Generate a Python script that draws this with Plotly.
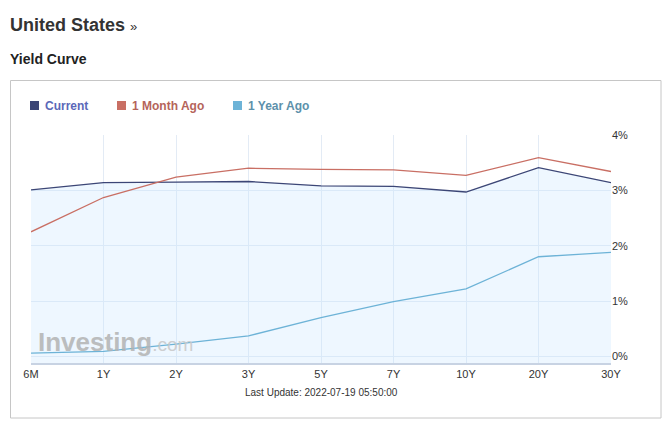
import plotly.graph_objects as go

# ---- data ----
maturities = ["6M", "1Y", "2Y", "3Y", "5Y", "7Y", "10Y", "20Y", "30Y"]
current = [3.01, 3.14, 3.15, 3.16, 3.08, 3.07, 2.97, 3.41, 3.14]
month_ago = [2.25, 2.87, 3.24, 3.40, 3.38, 3.37, 3.27, 3.59, 3.34]
year_ago = [0.06, 0.09, 0.22, 0.37, 0.70, 0.99, 1.22, 1.80, 1.88]
series_names = ["Current", "1 Month Ago", "1 Year Ago"]
y_ticks = [0, 1, 2, 3, 4]
y_tick_labels = ["0%", "1%", "2%", "3%", "4%"]

# ---- style ----
W, H = 671, 425
L, R, T, B = 31, 60, 135, 62
PW, PH = W - L - R, H - T - B
FONT = "Liberation Sans, Arial, sans-serif"
line_colors = ["#3c4676", "#c96f64", "#6db3d7"]
text_colors = ["#5b68b8", "#b5645a", "#5d91ab"]
YMIN = -0.12


def px(x):
    return (x - L) / PW


def py(y):
    return (H - B - y) / PH


fig = go.Figure()

# baseline for area fill
fig.add_trace(go.Scatter(x=maturities, y=[YMIN] * len(maturities), mode="lines",
                         line=dict(width=0), hoverinfo="skip", showlegend=False))
fig.add_trace(go.Scatter(x=maturities, y=current, mode="lines", name=series_names[0],
                         line=dict(color=line_colors[0], width=1.3),
                         fill="tonexty", fillcolor="rgba(200,228,255,0.3)", showlegend=False))
fig.add_trace(go.Scatter(x=maturities, y=month_ago, mode="lines", name=series_names[1],
                         line=dict(color=line_colors[1], width=1.3), showlegend=False))
fig.add_trace(go.Scatter(x=maturities, y=year_ago, mode="lines", name=series_names[2],
                         line=dict(color=line_colors[2], width=1.3), showlegend=False))

shapes = []
annotations = []

# outer box
shapes.append(dict(type="rect", xref="paper", yref="paper",
                   x0=px(10.5), x1=px(661), y0=py(418), y1=py(80.5),
                   line=dict(color="#c6c6c6", width=1), fillcolor="rgba(0,0,0,0)",
                   layer="below"))

# legend (manual)
sq_x = [30, 117, 233]
txt_x = [44, 131, 247]
for i, name in enumerate(series_names):
    shapes.append(dict(type="rect", xref="paper", yref="paper",
                       x0=px(sq_x[i]), x1=px(sq_x[i] + 9), y0=py(110), y1=py(101),
                       line=dict(width=0), fillcolor=line_colors[i]))
    annotations.append(dict(text="<b>" + name + "</b>", xref="paper", yref="paper",
                            x=px(txt_x[i] - 1), y=py(105.5), xanchor="left", yanchor="middle",
                            showarrow=False, font=dict(family=FONT, size=12, color=text_colors[i])))

# titles
annotations.append(dict(text="<b>United States</b> <span style='font-size:13px'>»</span>",
                        xref="paper", yref="paper", x=px(8), y=py(25.5),
                        xanchor="left", yanchor="middle", showarrow=False,
                        font=dict(family=FONT, size=18, color="#333333")))
annotations.append(dict(text="<b>Yield Curve</b>", xref="paper", yref="paper",
                        x=px(8), y=py(58.5), xanchor="left", yanchor="middle", showarrow=False,
                        font=dict(family=FONT, size=14, color="#222222")))

# last update
annotations.append(dict(text="Last Update: 2022-07-19 05:50:00", xref="paper", yref="paper",
                        x=px(321), y=py(392.5), xanchor="center", yanchor="middle",
                        showarrow=False, font=dict(family=FONT, size=10, color="#333333")))

# watermark
annotations.append(dict(text="<b>Investing</b><span style='font-size:19px;color:#c8c8c8'>.com</span>",
                        xref="paper", yref="paper", x=px(36), y=py(342),
                        xanchor="left", yanchor="middle", showarrow=False, opacity=0.85,
                        font=dict(family=FONT, size=26, color="#b3b3b3")))

fig.update_layout(
    width=W, height=H,
    margin=dict(l=L, r=R, t=T, b=B, pad=0),
    paper_bgcolor="white", plot_bgcolor="white",
    showlegend=False,
    shapes=shapes, annotations=annotations,
    xaxis=dict(type="category", range=[0, len(maturities) - 1], showgrid=True,
               gridcolor="#e3ebf5", gridwidth=1, showline=True, linecolor="#c8d3e3",
               linewidth=1.5, ticks="", zeroline=False, fixedrange=True,
               tickfont=dict(family=FONT, size=11, color="#333333")),
    yaxis=dict(side="right", range=[YMIN, 4], tickvals=y_ticks, ticktext=y_tick_labels,
               showgrid=True, gridcolor="#e3ebf5", gridwidth=1, showline=False,
               zeroline=False, ticks="", fixedrange=True,
               tickfont=dict(family=FONT, size=11, color="#333333")),
)

fig.write_html("out.html")
